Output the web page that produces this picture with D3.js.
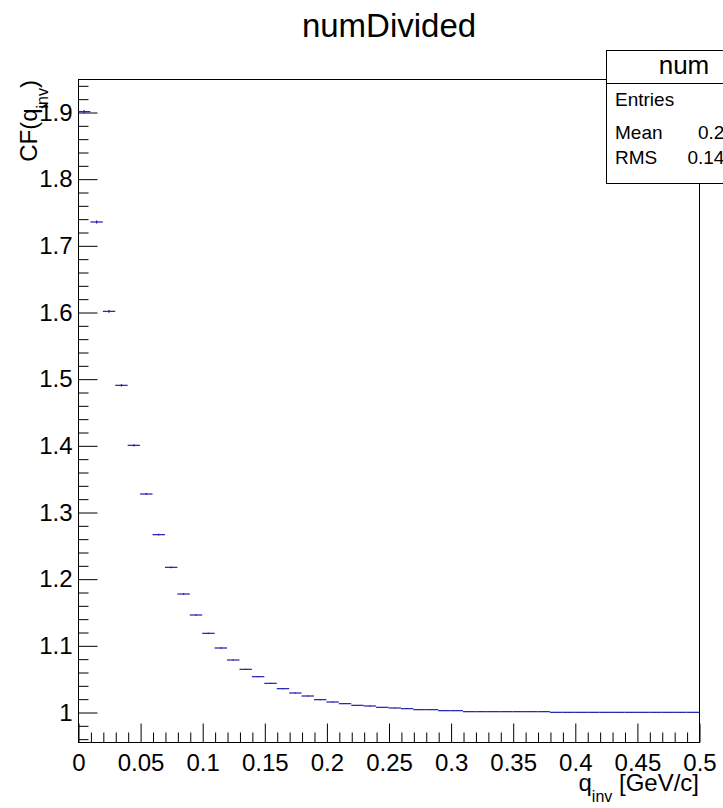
<!DOCTYPE html>
<html>
<head>
<meta charset="utf-8">
<script src="https://cdn.jsdelivr.net/npm/d3@7/dist/d3.min.js"></script>
<style>
  html, body { margin: 0; padding: 0; background: #fff; }
  svg { display: block; font-family: "Liberation Sans", Arial, Helvetica, sans-serif; }
</style>
</head>
<body>
<svg id="chart" width="723" height="808"></svg>
<script>
// ---- data ----
const chartTitle = "numDivided";
const qCenters = [0.005,0.015,0.025,0.035,0.045,0.055,0.065,0.075,0.085,0.095,
                  0.105,0.115,0.125,0.135,0.145,0.155,0.165,0.175,0.185,0.195,
                  0.205,0.215,0.225,0.235,0.245,0.255,0.265,0.275,0.285,0.295,
                  0.305,0.315,0.325,0.335,0.345,0.355,0.365,0.375,0.385,0.395,
                  0.405,0.415,0.425,0.435,0.445,0.455,0.465,0.475,0.485,0.495];
const binWidth = 0.01;
const cfValues = [1.9005,1.735,1.601,1.490,1.400,1.327,1.266,1.217,1.177,1.1455,
                  1.118,1.096,1.078,1.064,1.053,1.043,1.035,1.0285,1.024,1.0185,
                  1.015,1.0125,1.010,1.009,1.007,1.006,1.005,1.0035,1.0035,1.002,
                  1.002,1.0005,1.0005,1.0005,1.0005,1.0005,1.0005,1.0005,0.9995,0.9995,
                  0.9995,0.9995,0.9995,0.9995,0.9995,0.9995,0.9995,0.9995,0.9995,0.9995];
const cfErrors = [0.0025,0.0022,0.002,0.0018,0.0016,0.0015,0.0014,0.0013,0.0012,0.0011,
                  0.001,0.001,0.0009,0.0009,0.0008,0.0008,0.0008,0.0007,0.0007,0.0007,
                  0.0006,0.0006,0.0006,0.0006,0.0005,0.0005,0.0005,0.0005,0.0005,0.0005,
                  0.0005,0.0005,0.0005,0.0005,0.0005,0.0005,0.0005,0.0005,0.0005,0.0005,
                  0.0005,0.0005,0.0005,0.0005,0.0005,0.0005,0.0005,0.0005,0.0005,0.0005];
const xTickValues = [0,0.05,0.1,0.15,0.2,0.25,0.3,0.35,0.4,0.45,0.5];
const xTickLabels = ["0","0.05","0.1","0.15","0.2","0.25","0.3","0.35","0.4","0.45","0.5"];
const yTickValues = [1,1.1,1.2,1.3,1.4,1.5,1.6,1.7,1.8,1.9];
const yTickLabels = ["1","1.1","1.2","1.3","1.4","1.5","1.6","1.7","1.8","1.9"];
const xDomain = [0, 0.5];
const yDomain = [0.955, 1.9495];
const statsTitle = "num";
const statsNames = ["Entries", "Mean", "RMS"];
const statsValues = ["50", "0.213", "0.1443"];

// ---- layout ----
const plot = {left: 78, right: 699, top: 79, bottom: 742};
const svg = d3.select("#chart");

const x = d3.scaleLinear().domain(xDomain).range([plot.left, plot.right]);
const y = d3.scaleLinear().domain(yDomain).range([plot.bottom, plot.top]);

// minor tick values (axis subdivisions)
const xMinor = d3.range(0, 51).map(i => i / 100).filter(v => !xTickValues.some(t => Math.abs(t - v) < 1e-9));
const yMinor = d3.range(48, 98).map(i => i / 50).filter(v => v > yDomain[0] && v < yDomain[1] && !yTickValues.some(t => Math.abs(t - v) < 1e-9));

// frame
svg.append("rect")
  .attr("x", plot.left + 0.5).attr("y", plot.top + 0.5)
  .attr("width", plot.right - plot.left).attr("height", plot.bottom - plot.top)
  .attr("fill", "none").attr("stroke", "#000").attr("stroke-width", 1);

// x axis
const xAxisG = svg.append("g").attr("transform", `translate(0.5,${plot.bottom + 0.5})`);
xAxisG.call(d3.axisBottom(x).tickValues(xTickValues)
  .tickFormat((d, i) => xTickLabels[i]).tickSizeInner(-19).tickSizeOuter(0).tickPadding(11));
const xMinorG = svg.append("g").attr("transform", `translate(0.5,${plot.bottom + 0.5})`);
xMinorG.call(d3.axisBottom(x).tickValues(xMinor).tickFormat("").tickSizeInner(-10).tickSizeOuter(0));

// y axis
const yAxisG = svg.append("g").attr("transform", `translate(${plot.left + 0.5},0.5)`);
yAxisG.call(d3.axisLeft(y).tickValues(yTickValues)
  .tickFormat((d, i) => yTickLabels[i]).tickSizeInner(-19).tickSizeOuter(0).tickPadding(6));
const yMinorG = svg.append("g").attr("transform", `translate(${plot.left + 0.5},0.5)`);
yMinorG.call(d3.axisLeft(y).tickValues(yMinor).tickFormat("").tickSizeInner(-10).tickSizeOuter(0));

svg.selectAll(".domain").remove();
svg.selectAll(".tick line").attr("stroke", "#000").attr("stroke-width", 1);
svg.selectAll(".tick text")
  .attr("font-family", "'Liberation Sans', Arial, sans-serif")
  .attr("font-size", 24).attr("fill", "#000");

// data: horizontal bin-width bars + small vertical error bars
const pts = qCenters.map((q, i) => ({q, v: cfValues[i], e: cfErrors[i]}));
const dataG = svg.append("g").attr("stroke", "#1c1cb0").attr("stroke-width", 1.2).attr("fill", "none");
dataG.selectAll("line.h").data(pts).enter().append("line").attr("class", "h")
  .attr("x1", d => x(d.q - binWidth / 2)).attr("x2", d => x(d.q + binWidth / 2))
  .attr("y1", d => y(d.v)).attr("y2", d => y(d.v));
dataG.selectAll("line.v").data(pts).enter().append("line").attr("class", "v")
  .attr("x1", d => x(d.q)).attr("x2", d => x(d.q))
  .attr("y1", d => y(d.v - d.e)).attr("y2", d => y(d.v + d.e));

// title
svg.append("text").attr("x", 389).attr("y", 37)
  .attr("text-anchor", "middle").attr("font-size", 33).attr("fill", "#000")
  .text(chartTitle);

// x axis title
const xt = svg.append("text").attr("x", plot.right).attr("y", 791)
  .attr("text-anchor", "end").attr("font-size", 24).attr("fill", "#000");
xt.append("tspan").text("q");
xt.append("tspan").attr("dy", 11).attr("font-size", 16).text("inv");
xt.append("tspan").attr("dy", -11).text(" [GeV/c]");

// y axis title
const yt = svg.append("text").attr("transform", `translate(36.5,${plot.top + 1}) rotate(-90)`)
  .attr("text-anchor", "end").attr("font-size", 24).attr("fill", "#000");
yt.append("tspan").text("CF(q");
yt.append("tspan").attr("dy", 11).attr("font-size", 16).text("inv");
yt.append("tspan").attr("dy", -11).text(")");

// stats box
const sb = {x: 606, y: 50, w: 156, h: 133, sep: 83};
const sg = svg.append("g");
sg.append("rect").attr("x", sb.x + 0.5).attr("y", sb.y + 0.5).attr("width", sb.w).attr("height", sb.h)
  .attr("fill", "#fff").attr("stroke", "#000").attr("stroke-width", 1);
sg.append("line").attr("x1", sb.x).attr("x2", sb.x + sb.w).attr("y1", sb.sep + 0.5).attr("y2", sb.sep + 0.5)
  .attr("stroke", "#000");
sg.append("text").attr("x", sb.x + sb.w / 2).attr("y", 74).attr("text-anchor", "middle")
  .attr("font-size", 26).attr("fill", "#000").text(statsTitle);
const rowY = [106, 139, 164];
statsNames.forEach((n, i) => {
  sg.append("text").attr("x", 615).attr("y", rowY[i]).attr("font-size", 19).attr("fill", "#000").text(n);
  sg.append("text").attr("x", 745.5).attr("y", rowY[i]).attr("text-anchor", "end")
    .attr("font-size", 19).attr("fill", "#000").text(statsValues[i]);
});
</script>
</body>
</html>
